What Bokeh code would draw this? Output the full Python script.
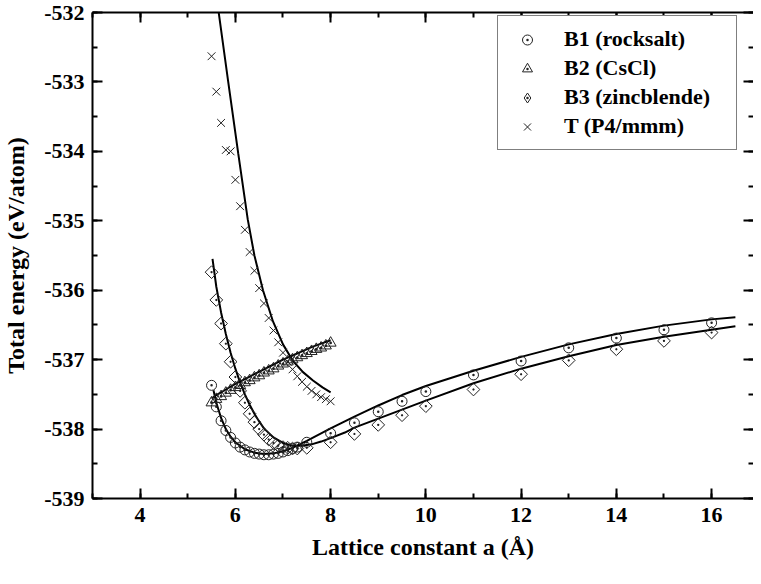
import math
from bokeh.plotting import figure
from bokeh.models import (Range1d, LinearAxis, SingleIntervalTicker, Legend,
                          LegendItem, CustomJSTickFormatter)
from bokeh.embed import file_html
from bokeh.resources import INLINE

# ---------------- data ----------------
# B1 (rocksalt) points
b1_x = [5.5, 5.6, 5.7, 5.8, 5.9, 6.0, 6.1, 6.2, 6.3, 6.4, 6.5, 6.6, 6.7, 6.8,
        6.9, 7.0, 7.1, 7.2, 7.3, 7.5, 8.0, 8.5, 9.0, 9.5, 10, 11, 12, 13, 14, 15, 16]
b1_y = [-537.37, -537.68, -537.88, -538.02, -538.12, -538.20, -538.26, -538.30,
        -538.33, -538.35, -538.36, -538.37, -538.37, -538.36, -538.35, -538.33,
        -538.31, -538.28, -538.26, -538.19, -538.06, -537.91, -537.75, -537.60,
        -537.46, -537.22, -537.02, -536.83, -536.69, -536.57, -536.47]
# B1 fitted curve
b1_fit_x = [5.54, 5.6, 5.7, 5.8, 5.9, 6.0, 6.2, 6.4, 6.6, 6.8, 7.0, 7.2, 7.5, 8.0,
            8.5, 9.0, 9.5, 10, 11, 12, 13, 14, 15, 16, 16.5]
b1_fit_y = [-537.44, -537.62, -537.84, -538.00, -538.11, -538.19, -538.29, -538.34,
            -538.36, -538.35, -538.32, -538.27, -538.17, -537.99, -537.82, -537.66,
            -537.51, -537.38, -537.16, -536.96, -536.78, -536.63, -536.51, -536.42,
            -536.39]

# B2 (CsCl) points
b2_x = [5.5, 5.6, 5.7, 5.8, 5.9, 6.0, 6.1, 6.2, 6.3, 6.4, 6.5, 6.6, 6.7, 6.8, 6.9,
        7.0, 7.1, 7.2, 7.3, 7.4, 7.5, 7.6, 7.7, 7.8, 7.9, 8.0]
b2_y = [-537.62, -537.57, -537.53, -537.48, -537.44, -537.40, -537.37, -537.33,
        -537.30, -537.26, -537.23, -537.19, -537.16, -537.13, -537.09, -537.06,
        -537.03, -537.00, -536.97, -536.94, -536.91, -536.88, -536.85, -536.83,
        -536.80, -536.76]
# B2 fitted curve
b2_fit_x = [5.5, 5.6, 5.7, 5.8, 5.9, 6.0, 6.2, 6.4, 6.6, 6.8, 7.0, 7.2, 7.4, 7.6, 7.8, 8.0]
b2_fit_y = [-537.56, -537.51, -537.47, -537.43, -537.39, -537.35, -537.28, -537.21,
            -537.14, -537.07, -537.00, -536.94, -536.88, -536.82, -536.77, -536.72]

# B3 (zincblende) points
b3_x = [5.5, 5.6, 5.7, 5.8, 5.9, 6.0, 6.1, 6.2, 6.3, 6.4, 6.5, 6.6, 6.7, 6.8,
        6.9, 7.0, 7.1, 7.2, 7.3, 7.5, 8.0, 8.5, 9.0, 9.5, 10, 11, 12, 13, 14, 15, 16]
b3_y = [-535.74, -536.14, -536.48, -536.77, -537.03, -537.25, -537.45, -537.62,
        -537.78, -537.90, -538.00, -538.08, -538.15, -538.20, -538.24, -538.26,
        -538.27, -538.28, -538.28, -538.27, -538.19, -538.07, -537.94, -537.80,
        -537.67, -537.43, -537.21, -537.01, -536.85, -536.73, -536.61]
# B3 fitted curve
b3_fit_x = [5.52, 5.6, 5.7, 5.8, 5.9, 6.0, 6.1, 6.2, 6.3, 6.4, 6.5, 6.6, 6.8, 7.0,
            7.2, 7.4, 7.6, 7.8, 8.0, 8.3, 8.5, 9.0, 9.5, 10, 11, 12, 13, 14, 15, 16, 16.5]
b3_fit_y = [-535.55, -535.95, -536.32, -536.63, -536.90, -537.13, -537.33, -537.50,
            -537.65, -537.78, -537.89, -537.99, -538.12, -538.20, -538.24, -538.24,
            -538.22, -538.18, -538.13, -538.05, -537.98, -537.85, -537.72, -537.59,
            -537.34, -537.13, -536.95, -536.79, -536.67, -536.57, -536.52]

# T (P4/mmm) points
t_x = [5.5, 5.6, 5.7, 5.8, 5.9, 6.0, 6.1, 6.2, 6.3, 6.4, 6.5, 6.6, 6.7, 6.8, 6.9,
       7.0, 7.1, 7.2, 7.3, 7.4, 7.5, 7.6, 7.7, 7.8, 7.9, 8.0]
t_y = [-532.63, -533.14, -533.59, -533.98, -534.00, -534.41, -534.79, -535.13,
       -535.45, -535.72, -535.97, -536.19, -536.40, -536.58, -536.75, -536.90,
       -537.03, -537.14, -537.24, -537.32, -537.39, -537.45, -537.50, -537.54,
       -537.57, -537.60]
# T fitted curve
t_fit_x = [5.64, 5.85, 6.06, 6.26, 6.4, 6.58, 6.79, 7.0, 7.21, 7.42, 7.63, 7.83, 8.0]
t_fit_y = [-531.95, -533.00, -534.03, -534.98, -535.50, -536.00, -536.45, -536.78,
           -537.02, -537.18, -537.30, -537.40, -537.47]

labels = ["B1 (rocksalt)", "B2 (CsCl)", "B3 (zincblende)", "T (P4/mmm)"]
y_title = "Total energy (eV/atom)"
x_title = "Lattice constant a (Å)"
x_ticks_interval = 2
y_ticks_interval = 1

# ---------------- figure ----------------
FONT = "Liberation Serif"
INK = "#000000"
MARK = "#222222"

p = figure(width=753, height=568, output_backend="svg", toolbar_location=None,
           x_range=Range1d(3, 16.88), y_range=Range1d(-539, -532),
           min_border_left=88, min_border_right=0, min_border_top=12,
           min_border_bottom=70)
p.background_fill_color = "white"
p.border_fill_color = "white"
p.outline_line_color = None
p.grid.visible = False

blank = CustomJSTickFormatter(code="return ''")
plain = CustomJSTickFormatter(code="return tick.toFixed(0)")

def style_axis(ax, show_labels):
    ax.axis_line_color = INK
    ax.axis_line_width = 2
    ax.major_tick_in = 10
    ax.major_tick_out = 0
    ax.minor_tick_in = 5
    ax.minor_tick_out = 0
    ax.major_tick_line_color = INK
    ax.major_tick_line_width = 2
    ax.minor_tick_line_color = INK
    ax.minor_tick_line_width = 2
    ax.major_label_text_font = FONT
    ax.major_label_text_font_style = "bold"
    ax.major_label_text_color = INK
    ax.major_label_text_font_size = "22px"
    ax.axis_label_text_font = FONT
    ax.axis_label_text_font_style = "bold"
    ax.axis_label_text_font_size = "24px"
    ax.axis_label_text_color = INK
    if show_labels:
        ax.formatter = plain
    else:
        ax.formatter = blank
        ax.major_label_standoff = 0

p.xaxis.ticker = SingleIntervalTicker(interval=x_ticks_interval, num_minor_ticks=2)
p.yaxis.ticker = SingleIntervalTicker(interval=y_ticks_interval, num_minor_ticks=2)
style_axis(p.xaxis[0], True)
style_axis(p.yaxis[0], True)
p.xaxis.major_label_standoff = 9
p.yaxis.major_label_standoff = 8
p.yaxis.axis_label = y_title
p.yaxis.axis_label_standoff = 12
p.xaxis.axis_label = x_title
p.xaxis.axis_label_standoff = 9

top = LinearAxis(ticker=SingleIntervalTicker(interval=x_ticks_interval, num_minor_ticks=2))
style_axis(top, False)
p.add_layout(top, "above")
right = LinearAxis(ticker=SingleIntervalTicker(interval=y_ticks_interval, num_minor_ticks=2))
style_axis(right, False)
right.axis_line_color = None
p.add_layout(right, "right")

# fitted curves
for fx, fy in [(b1_fit_x, b1_fit_y), (b2_fit_x, b2_fit_y),
               (b3_fit_x, b3_fit_y), (t_fit_x, t_fit_y)]:
    p.line(fx, fy, line_color=INK, line_width=2)

# data points
r1 = p.scatter(b1_x, b1_y, marker="circle_dot", size=10, fill_color=None,
               line_color=MARK, line_width=1)
r2 = p.scatter(b2_x, b2_y, marker="triangle_dot", size=11, fill_color=None,
               line_color=MARK, line_width=1)
r3 = p.scatter(b3_x, b3_y, marker="square_dot", size=9, angle=math.pi / 4,
               fill_color=None, line_color=MARK, line_width=1)
# legend swatch for B3 (legend glyphs ignore rotation, so use a diamond marker;
# size 0 keeps it from drawing on the plot itself)
r3_key = p.scatter(b3_x, b3_y, marker="diamond_dot", size=0, fill_color=None,
                   line_color=MARK, line_width=1)
r4 = p.scatter(t_x, t_y, marker="x", size=11, line_color=MARK, line_width=1)

legend = Legend(items=[LegendItem(label=labels[0], renderers=[r1]),
                       LegendItem(label=labels[1], renderers=[r2]),
                       LegendItem(label=labels[2], renderers=[r3_key]),
                       LegendItem(label=labels[3], renderers=[r4])],
                location=(405, 348), margin=0, padding=10, spacing=3,
                glyph_width=38, glyph_height=25, label_height=25,
                label_standoff=18, label_width=162,
                label_text_font=FONT, label_text_font_style="bold",
                label_text_font_size="22px", label_text_color=INK,
                border_line_color=INK, border_line_width=1,
                background_fill_color="white", background_fill_alpha=1)
p.add_layout(legend)

open("out.html", "w").write(file_html(p, INLINE))
